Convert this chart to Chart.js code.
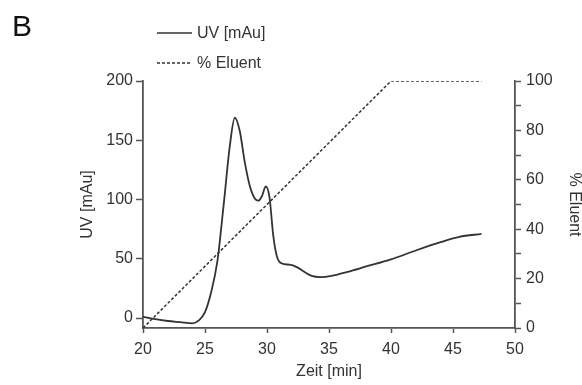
<!DOCTYPE html>
<html>
<head>
<meta charset="utf-8">
<script src="https://cdn.jsdelivr.net/npm/chart.js@4"></script>
<style>
  html, body { margin: 0; padding: 0; background: #fff; }
  #wrap { width: 582px; height: 385px; }
</style>
</head>
<body>
<div id="wrap"><canvas id="chromChart" width="582" height="385"></canvas></div>
<script>
// UV trace
const zeit = [20, 21, 22, 23, 24, 24.5, 25, 25.5, 26, 26.5, 27, 27.4, 27.8, 28.2, 28.6, 29, 29.3, 29.6, 29.9, 30.2, 30.5, 30.8, 31.2, 31.8, 32.4, 33, 33.6, 34.3, 35.2, 36.5, 38, 40, 42, 44, 45.5, 47.3];
const uv   = [1, -1, -2.5, -3.5, -4.5, -2, 5, 22, 48, 95, 145, 169, 158, 132, 112, 101, 99, 103, 111, 102, 70, 52, 46, 45, 43, 39, 35.5, 34.5, 35.5, 39, 43.5, 49.5, 57, 64, 68.5, 71];

// eluent gradient
const eluentZeit = [20, 40, 47.3];
const eluent = [0, 100, 100];

const xTicks = [20, 25, 30, 35, 40, 45, 50];
const uvTicks = [0, 50, 100, 150, 200];
const eluentTicks = [0, 10, 20, 30, 40, 50, 60, 70, 80, 90, 100];

const farbe = '#333333';
const achse = '#555555';
const schrift = "'Liberation Sans', Arial, Helvetica, sans-serif";

const datenUV = zeit.map((t, i) => ({ x: t, y: uv[i] }));
const datenEluent = eluentZeit.map((t, i) => ({ x: t, y: eluent[i] }));

// legend + panel letter drawn by hand, the built-in legend can't be placed like this
const legendePlugin = {
  id: 'legende',
  afterDraw(chart) {
    const ctx = chart.ctx;
    ctx.save();
    ctx.fillStyle = '#111';
    ctx.font = '30px ' + schrift;
    ctx.textBaseline = 'alphabetic';
    ctx.fillText('B', 12, 36);

    const zeilen = [33, 63];
    chart.data.datasets.forEach((ds, i) => {
      const y = zeilen[i];
      ctx.strokeStyle = ds.borderColor;
      ctx.lineWidth = 1.5;
      ctx.setLineDash(ds.borderDash || []);
      ctx.beginPath();
      ctx.moveTo(157, y);
      ctx.lineTo(192, y);
      ctx.stroke();
      ctx.setLineDash([]);
      ctx.fillStyle = farbe;
      ctx.font = '16px ' + schrift;
      ctx.textBaseline = 'middle';
      ctx.fillText(ds.label, 197, y + 1);
    });
    ctx.restore();
  }
};

const ctx = document.getElementById('chromChart').getContext('2d');
const chromChart = new Chart(ctx, {
  type: 'line',
  data: {
    datasets: [{
      label: 'UV [mAu]',
      data: datenUV,
      yAxisID: 'y',
      borderColor: farbe,
      borderWidth: 1.8,
      pointRadius: 0,
      cubicInterpolationMode: 'monotone',
      fill: false
    }, {
      label: '% Eluent',
      data: datenEluent,
      yAxisID: 'y1',
      borderColor: farbe,
      borderWidth: 1.5,
      borderDash: [3, 2],
      pointRadius: 0,
      tension: 0,
      fill: false
    }]
  },
  options: {
    responsive: false,
    animation: false,
    layout: { padding: { top: 81, left: 78, right: 0, bottom: 5 } },
    plugins: {
      legend: { display: false },
      tooltip: { enabled: false }
    },
    scales: {
      x: {
        type: 'linear',
        min: 20,
        max: 50,
        afterBuildTicks: (s) => { s.ticks = xTicks.map(v => ({ value: v })); },
        afterFit: (s) => { s.height = 52; },
        grid: { drawOnChartArea: false, tickLength: 5, color: achse, tickWidth: 1.5 },
        border: { color: achse, width: 1.8 },
        ticks: { color: farbe, font: { family: schrift, size: 16 }, padding: 7, maxRotation: 0 },
        title: { display: true, text: 'Zeit [min]', color: farbe, font: { family: schrift, size: 16, lineHeight: 1 }, padding: 0 }
      },
      y: {
        position: 'left',
        min: -8.4,
        max: 200,
        afterBuildTicks: (s) => { s.ticks = uvTicks.map(v => ({ value: v })); },
        afterFit: (s) => { s.width = 65; },
        grid: { drawOnChartArea: false, tickLength: 7, color: achse, tickWidth: 1.5 },
        border: { color: achse, width: 1.8 },
        ticks: { color: farbe, font: { family: schrift, size: 16 }, padding: 3 },
        title: { display: true, text: 'UV [mAu]', color: farbe, font: { family: schrift, size: 16, lineHeight: 1.2 }, padding: 0 }
      },
      y1: {
        position: 'right',
        min: 0,
        max: 100,
        afterBuildTicks: (s) => { s.ticks = eluentTicks.map(v => ({ value: v })); },
        afterFit: (s) => { s.width = 67; },
        grid: { drawOnChartArea: false, tickLength: 6, color: achse, tickWidth: 1.5 },
        border: { color: achse, width: 1.8 },
        ticks: {
          color: farbe,
          font: { family: schrift, size: 16 },
          padding: 5,
          callback: (v) => (v % 20 === 0 ? v : '')
        },
        title: { display: true, text: '% Eluent', color: farbe, font: { family: schrift, size: 16, lineHeight: 1 }, padding: 0 }
      }
    }
  },
  plugins: [legendePlugin]
});
</script>
</body>
</html>
